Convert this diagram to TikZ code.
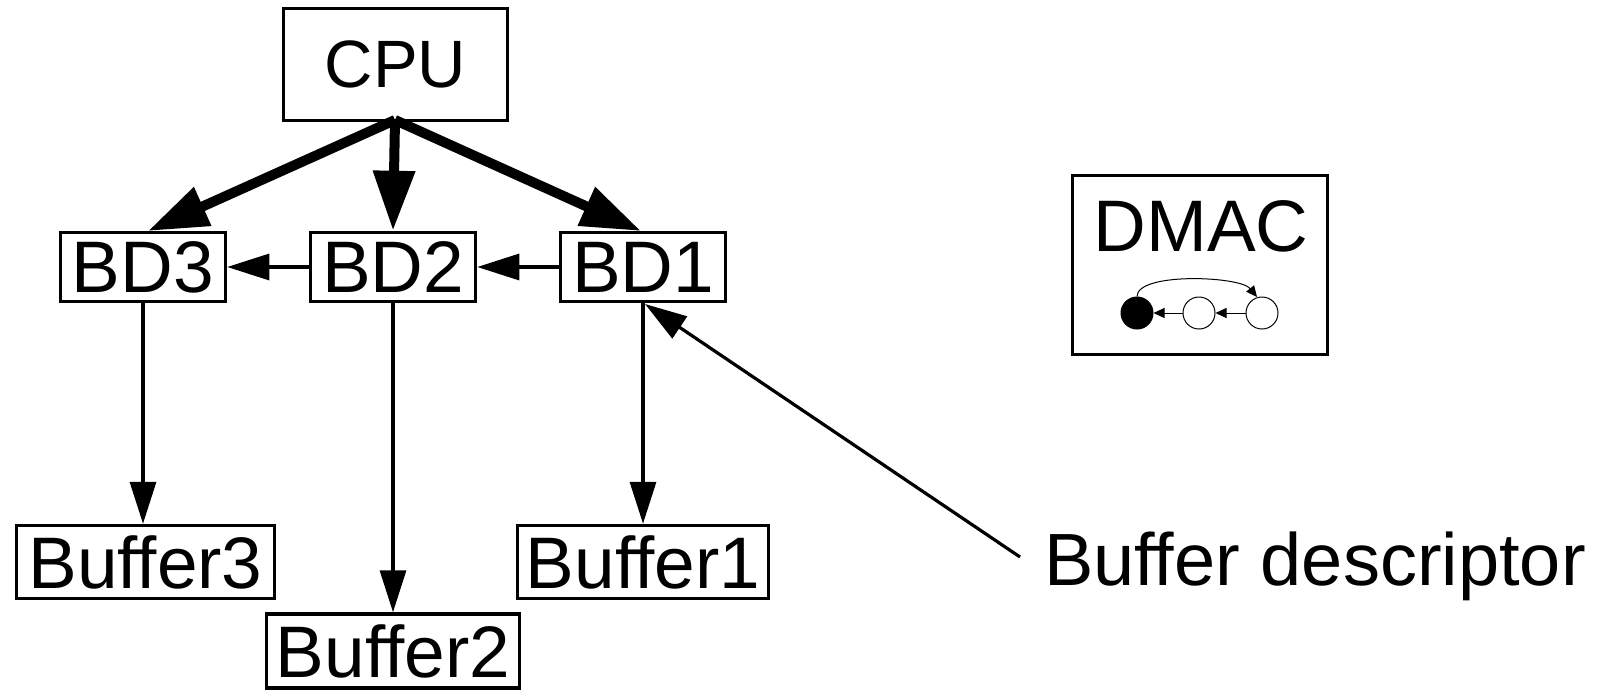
\documentclass[tikz,border=0pt]{standalone}
\usepackage{fontspec}
\setmainfont{Liberation Sans}
\usetikzlibrary{arrows.meta}
\begin{document}
\begin{tikzpicture}[x=1pt,y=-1pt,
  box/.style={draw,line width=3.5pt,rectangle,inner sep=0pt,anchor=center},
  big/.style={font=\fontsize{73}{80}\selectfont},
  thick arrow/.style={line width=10pt,-{Triangle[length=60pt,width=40pt]}},
  thin arrow/.style={line width=3.2pt,-{Triangle[length=42pt,width=26pt]}},
  mini arrow/.style={line width=1pt,-{Triangle[length=11pt,width=10pt]}},
  dot/.style={circle,draw,line width=1pt,minimum size=32pt,inner sep=0pt}]
\useasboundingbox (0,0) rectangle (1600,691);

% processor and descriptor chain
\node[box,minimum width=224pt,minimum height=112pt,font=\fontsize{67}{72}\selectfont] (cpu) at (395.5,64.5) {CPU};
\node[box,big,minimum width=165pt,minimum height=69pt] (bd3) at (143,267) {BD3};
\node[box,big,minimum width=165pt,minimum height=69pt] (bd2) at (393,267) {BD2};
\node[box,big,minimum width=165pt,minimum height=69pt] (bd1) at (643,267) {BD1};

% buffers
\node[box,big,minimum width=258pt,minimum height=73pt] (buf3) at (145.5,562) {Buffer3};
\node[box,big,minimum width=253pt,minimum height=74pt] (buf2) at (393,651) {Buffer2};
\node[box,big,minimum width=251pt,minimum height=73pt] (buf1) at (643,562) {Buffer1};

% label
\node[font=\fontsize{74}{80}\selectfont,anchor=west,inner sep=0pt] (lbl) at (1044,566) {Buffer descriptor};
\coordinate (lblend) at (1020,557);

% DMAC with its ring of descriptors
\node[box,minimum width=255pt,minimum height=179pt] (dmac) at (1200,265) {};
\node[big,inner sep=0pt] (dmactxt) at (1201,226) {DMAC};
\node[dot,fill=black] (r1) at (1137,313) {};
\node[dot] (r2) at (1199,313) {};
\node[dot] (r3) at (1262,313) {};

\coordinate (cpuout) at (395,120);
\draw[thick arrow] (cpuout) -- (148,231);
\draw[thick arrow] (cpuout) -- (bd2.north);
\draw[thick arrow] (cpuout) -- (641,231);

\draw[thin arrow] (bd1.west) -- (bd2.east);
\draw[thin arrow] (bd2.west) -- (bd3.east);
\draw[thin arrow] (bd3.south) -- (buf3.north -| bd3.south);
\draw[thin arrow] (bd2.south) -- (buf2.north);
\draw[thin arrow] (bd1.south) -- (buf1.north);
\draw[thin arrow] (lblend) -- (645,304);

\draw[mini arrow] (r3.west) -- (r2.east);
\draw[mini arrow] (r2.west) -- (r1.east);
\draw[mini arrow] (r1.north) .. controls (1137,272) and (1240,276) .. (1257,297);
\end{tikzpicture}
\end{document}
